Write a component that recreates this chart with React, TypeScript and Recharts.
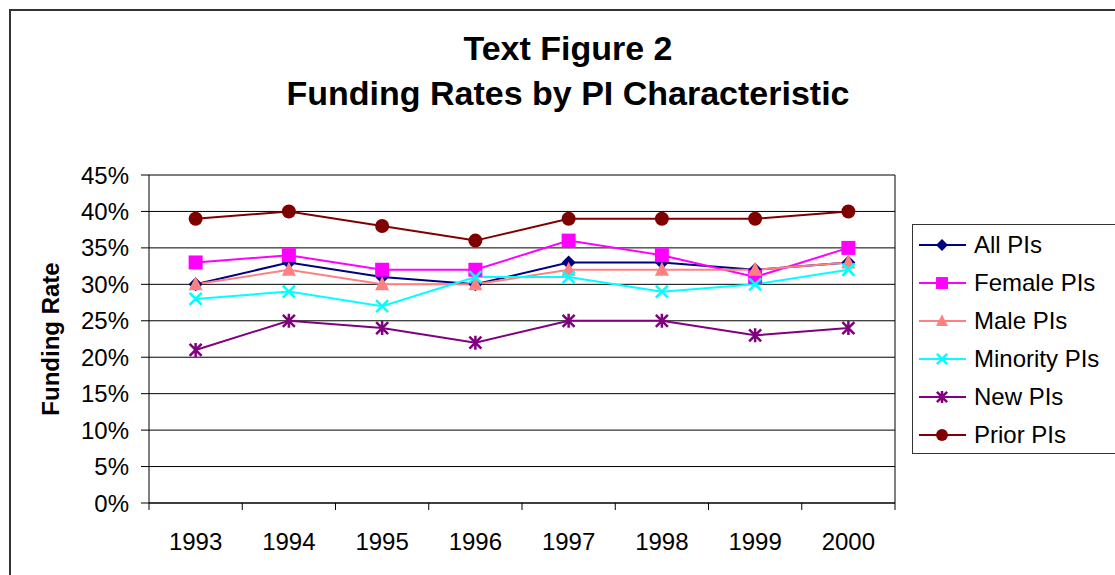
import { LineChart, Line, XAxis, YAxis, CartesianGrid } from "recharts";

// Funding rates (%), 1993–2000.
const years = ["1993", "1994", "1995", "1996", "1997", "1998", "1999", "2000"];
const allPIs = [30, 33, 31, 30, 33, 33, 32, 33];
const femalePIs = [33, 34, 32, 32, 36, 34, 31, 35];
const malePIs = [30, 32, 30, 30, 32, 32, 32, 33];
const minorityPIs = [28, 29, 27, 31, 31, 29, 30, 32];
const newPIs = [21, 25, 24, 22, 25, 25, 23, 24];
const priorPIs = [39, 40, 38, 36, 39, 39, 39, 40];
const yTicks = [0, 5, 10, 15, 20, 25, 30, 35, 40, 45];

const FONT = '"Liberation Sans", Arial, sans-serif';
const W = 1115;
const H = 575;
const PLOT_LEFT = 149;
const PLOT_TOP = 175;
const PLOT_RIGHT = 895;
const PLOT_BOTTOM = 503;
const BAND = (PLOT_RIGHT - PLOT_LEFT) / years.length;

type MarkerKind = "diamond" | "square" | "triangle" | "x" | "star" | "circle";

const series: { key: string; name: string; color: string; marker: MarkerKind; values: number[] }[] = [
  { key: "all", name: "All PIs", color: "#000080", marker: "diamond", values: allPIs },
  { key: "female", name: "Female PIs", color: "#FF00FF", marker: "square", values: femalePIs },
  { key: "male", name: "Male PIs", color: "#FF8080", marker: "triangle", values: malePIs },
  { key: "minority", name: "Minority PIs", color: "#00FFFF", marker: "x", values: minorityPIs },
  { key: "newer", name: "New PIs", color: "#800080", marker: "star", values: newPIs },
  { key: "prior", name: "Prior PIs", color: "#800000", marker: "circle", values: priorPIs },
];

const data = years.map((year, i) => {
  const row: Record<string, string | number> = { year };
  series.forEach((s) => {
    row[s.key] = s.values[i];
  });
  return row;
});

function Marker({ kind, cx, cy, color, s = 1 }: { kind: MarkerKind; cx: number; cy: number; color: string; s?: number }) {
  switch (kind) {
    case "diamond":
      return <path d={`M${cx},${cy - 7 * s}L${cx + 7 * s},${cy}L${cx},${cy + 7 * s}L${cx - 7 * s},${cy}Z`} fill={color} />;
    case "square":
      return <rect x={cx - 7 * s} y={cy - 7 * s} width={14 * s} height={14 * s} fill={color} />;
    case "triangle":
      return <path d={`M${cx},${cy - 8 * s}L${cx + 7 * s},${cy + 6 * s}L${cx - 7 * s},${cy + 6 * s}Z`} fill={color} />;
    case "x":
      return (
        <path
          d={`M${cx - 6 * s},${cy - 6 * s}L${cx + 6 * s},${cy + 6 * s}M${cx + 6 * s},${cy - 6 * s}L${cx - 6 * s},${cy + 6 * s}`}
          stroke={color}
          strokeWidth={2.5}
        />
      );
    case "star":
      return (
        <path
          d={`M${cx - 6 * s},${cy - 6 * s}L${cx + 6 * s},${cy + 6 * s}M${cx + 6 * s},${cy - 6 * s}L${cx - 6 * s},${cy + 6 * s}M${cx},${cy - 7 * s}L${cx},${cy + 7 * s}`}
          stroke={color}
          strokeWidth={2.5}
        />
      );
    default:
      return <circle cx={cx} cy={cy} r={7 * s} fill={color} />;
  }
}

function XTick(props: any) {
  const { x, payload, index } = props;
  const isLast = index === years.length - 1;
  return (
    <g>
      <line x1={x - BAND / 2} y1={PLOT_BOTTOM} x2={x - BAND / 2} y2={PLOT_BOTTOM + 7} stroke="#000" />
      {isLast && <line x1={x + BAND / 2} y1={PLOT_BOTTOM} x2={x + BAND / 2} y2={PLOT_BOTTOM + 7} stroke="#000" />}
      <text x={x} y={PLOT_BOTTOM + 47} textAnchor="middle" fontFamily={FONT} fontSize={24} fill="#000">
        {payload.value}
      </text>
    </g>
  );
}

function LegendBox() {
  return (
    <div
      style={{
        position: "absolute",
        left: 912,
        top: 224,
        width: 220,
        height: 230,
        border: "1px solid #333",
        background: "#fff",
        paddingTop: 1,
        fontFamily: FONT,
        fontSize: 24,
        color: "#000",
        boxSizing: "border-box",
      }}
    >
      {series.map((s) => (
        <div key={s.key} style={{ display: "flex", alignItems: "center", height: 38 }}>
          <svg width={55} height={20} style={{ marginLeft: 6 }}>
            <line x1={0} y1={10} x2={47} y2={10} stroke={s.color} strokeWidth={2} />
            <Marker kind={s.marker} cx={23} cy={10} color={s.color} s={0.85} />
          </svg>
          <span>{s.name}</span>
        </div>
      ))}
    </div>
  );
}

export default function App() {
  return (
    <div style={{ position: "absolute", left: 0, top: 0, width: W, height: H, background: "#fff", overflow: "hidden" }}>
      <div
        style={{
          position: "absolute",
          left: 9,
          top: 9,
          width: W + 20,
          height: H + 20,
          borderLeft: "2px solid #333",
          borderTop: "2px solid #333",
        }}
      />
      <div
        style={{
          position: "absolute",
          left: 0,
          width: 1136,
          top: 26,
          textAlign: "center",
          fontFamily: FONT,
          fontWeight: "bold",
          fontSize: 34,
          lineHeight: "45px",
          color: "#000",
        }}
      >
        <div>Text Figure 2</div>
        <div>Funding Rates by PI Characteristic</div>
      </div>
      <div style={{ position: "absolute", left: 0, top: 0 }}>
        <LineChart
          width={W}
          height={H}
          data={data}
          margin={{ top: PLOT_TOP, right: W - PLOT_RIGHT, bottom: 0, left: 0 }}
        >
          <CartesianGrid
            stroke="#000"
            horizontal
            vertical
            verticalCoordinatesGenerator={({ offset }: any) => [offset.left + offset.width]}
          />
          <XAxis
            dataKey="year"
            scale="band"
            height={H - PLOT_BOTTOM}
            axisLine={{ stroke: "#000" }}
            tickLine={false}
            tick={<XTick />}
            interval={0}
          />
          <YAxis
            width={PLOT_LEFT}
            domain={[0, 45]}
            ticks={yTicks}
            interval={0}
            tickFormatter={(v: number) => `${v}%`}
            axisLine={{ stroke: "#000" }}
            tickLine={{ stroke: "#000" }}
            tickSize={8}
            tickMargin={12}
            tick={{ fontFamily: FONT, fontSize: 24, fill: "#000" }}
            label={{
              content: ({ viewBox }: any) => {
                const cx = 50;
                const cy = viewBox.y + viewBox.height / 2;
                return (
                  <text
                    x={cx}
                    y={cy}
                    transform={`rotate(-90 ${cx} ${cy})`}
                    textAnchor="middle"
                    dominantBaseline="central"
                    fontFamily={FONT}
                    fontWeight="bold"
                    fontSize={24}
                    fill="#000"
                  >
                    Funding Rate
                  </text>
                );
              },
            }}
          />
          {series.map((s) => (
            <Line
              key={s.key}
              dataKey={s.key}
              name={s.name}
              stroke={s.color}
              strokeWidth={2}
              isAnimationActive={false}
              dot={(p: any) => <Marker key={`${s.key}-${p.index}`} kind={s.marker} cx={p.cx} cy={p.cy} color={s.color} />}
              activeDot={false}
            />
          ))}
        </LineChart>
      </div>
      <LegendBox />
    </div>
  );
}
